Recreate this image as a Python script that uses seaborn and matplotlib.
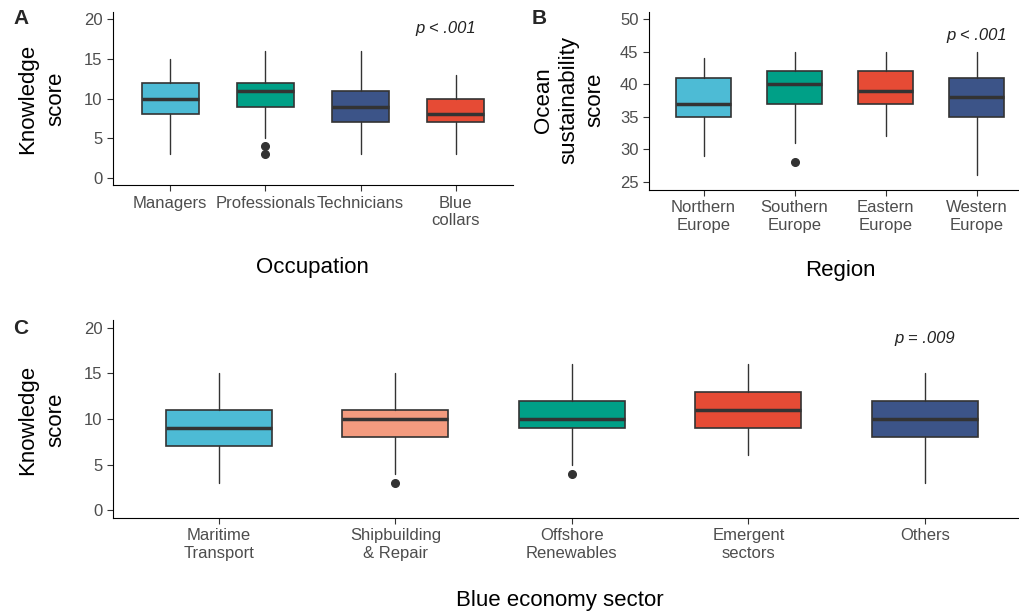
import seaborn as sns
import matplotlib.pyplot as plt

# Box statistics: (low whisker, q1, median, q3, high whisker)
occupations = ["Managers", "Professionals", "Technicians", "Blue\ncollars"]
occ_stats = [(3, 8, 10, 12, 15), (5, 9, 11, 12, 16), (3, 7, 9, 11, 16), (3, 7, 8, 10, 13)]
occ_fliers = [[], [4, 3], [], []]
occ_colors = ["#4DBBD5", "#00A087", "#3C5488", "#E64B35"]

regions = ["Northern\nEurope", "Southern\nEurope", "Eastern\nEurope", "Western\nEurope"]
reg_stats = [(29, 35, 37, 41, 44), (31, 37, 40, 42, 45), (32, 37, 39, 42, 45), (26, 35, 38, 41, 45)]
reg_fliers = [[], [28], [], []]
reg_colors = ["#4DBBD5", "#00A087", "#E64B35", "#3C5488"]

sectors = ["Maritime\nTransport", "Shipbuilding\n& Repair", "Offshore\nRenewables", "Emergent\nsectors", "Others"]
sec_stats = [(3, 7, 9, 11, 15), (4, 8, 10, 11, 15), (5, 9, 10, 12, 16), (6, 9, 11, 13, 16), (3, 8, 10, 12, 15)]
sec_fliers = [[], [3], [4], [], []]
sec_colors = ["#4DBBD5", "#F39B7F", "#00A087", "#E64B35", "#3C5488"]

sns.set_style("ticks")
plt.rcParams['font.family'] = ['Liberation Sans', 'DejaVu Sans']

fig = plt.figure(figsize=(10.2, 6.15), dpi=100)
axA = fig.add_axes([0.1108, 0.699, 0.392, 0.2813])
axB = fig.add_axes([0.6363, 0.691, 0.3637, 0.2894])
axC = fig.add_axes([0.1108, 0.1577, 0.8892, 0.322])


def draw(ax, labels, stats, fliers, colors):
    boxes = []
    for lab, s, f in zip(labels, stats, fliers):
        boxes.append(dict(label=lab, whislo=s[0], q1=s[1], med=s[2], q3=s[3], whishi=s[4], fliers=f))
    bp = ax.bxp(boxes, positions=range(len(boxes)), widths=0.6, patch_artist=True,
                showcaps=False,
                boxprops=dict(edgecolor="#333333", linewidth=1.2),
                medianprops=dict(color="#333333", linewidth=2.5),
                whiskerprops=dict(color="#333333", linewidth=1.0),
                flierprops=dict(marker="o", markerfacecolor="#333333", markeredgecolor="#333333",
                                markersize=5.5))
    for patch, c in zip(bp["boxes"], colors):
        patch.set_facecolor(c)
    sns.despine(ax=ax)
    ax.tick_params(labelsize=12, labelcolor="#4d4d4d", color="#333333", length=4)
    ax.spines["left"].set_color("black")
    ax.spines["bottom"].set_color("black")
    ax.grid(False)


draw(axA, occupations, occ_stats, occ_fliers, occ_colors)
axA.set_xlim(-0.6, 3.6)
axA.set_ylim(-0.9, 20.9)
axA.set_yticks([0, 5, 10, 15, 20])
axA.set_ylabel("Knowledge\nscore", fontsize=16, linespacing=1.45, color="black")
axA.yaxis.set_label_coords(-0.1175, 0.5)
axA.set_xlabel("Occupation", fontsize=16, color="black")
axA.xaxis.set_label_coords(0.5, -0.416)
axA.text(2.9, 18.8, "p < .001", fontsize=12, style="italic", ha="center", va="center", color="#222222")

draw(axB, regions, reg_stats, reg_fliers, reg_colors)
axB.set_xlim(-0.6, 3.477)
axB.set_ylim(23.77, 51.07)
axB.set_yticks([25, 30, 35, 40, 45, 50])
axB.set_ylabel("Ocean\nsustainability\nscore", fontsize=16, linespacing=1.28, color="black")
axB.yaxis.set_label_coords(-0.1186, 0.506)
axB.set_xlabel("Region", fontsize=16, color="black")
axB.xaxis.set_label_coords(0.515, -0.393)
axB.text(3.0, 47.5, "p < .001", fontsize=12, style="italic", ha="center", va="center", color="#222222")

draw(axC, sectors, sec_stats, sec_fliers, sec_colors)
axC.set_xlim(-0.6, 4.539)
axC.set_ylim(-0.88, 20.88)
axC.set_yticks([0, 5, 10, 15, 20])
axC.set_ylabel("Knowledge\nscore", fontsize=16, linespacing=1.45, color="black")
axC.yaxis.set_label_coords(-0.0518, 0.495)
axC.set_xlabel("Blue economy sector", fontsize=16, color="black")
axC.xaxis.set_label_coords(0.493, -0.364)
axC.text(4.0, 18.8, "p = .009", fontsize=12, style="italic", ha="center", va="center", color="#222222")

fig.text(13 / 1020, 1 - 18 / 615, "A", fontsize=15, fontweight="bold", va="center")
fig.text(532 / 1020, 1 - 18 / 615, "B", fontsize=15, fontweight="bold", va="center")
fig.text(13 / 1020, 1 - 328 / 615, "C", fontsize=15, fontweight="bold", va="center")

fig.savefig("out.png", dpi=100)
